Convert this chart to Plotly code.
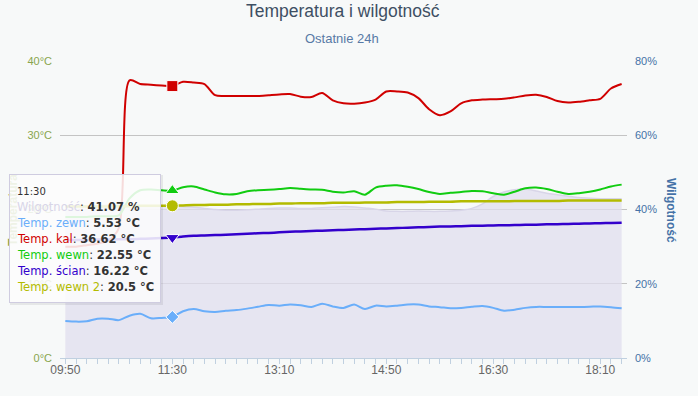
import plotly.graph_objects as go

# ---------------- data ----------------
DAY = "2015-01-01"
times = ["09:50", "10:00", "10:10", "10:20", "10:30", "10:40", "10:50", "11:00", "11:10", "11:20",
         "11:30", "11:40", "11:50", "12:00", "12:10", "12:20", "12:30", "12:40", "12:50", "13:00",
         "13:10", "13:20", "13:30", "13:40", "13:50", "14:00", "14:10", "14:20", "14:30", "14:40",
         "14:50", "15:00", "15:10", "15:20", "15:30", "15:40", "15:50", "16:00", "16:10", "16:20",
         "16:30", "16:40", "16:50", "17:00", "17:10", "17:20", "17:30", "17:40", "17:50", "18:00",
         "18:10", "18:20", "18:30"]

humidity = [41.0, 41.0, 41.0, 41.0, 41.2, 41.2, 41.0, 40.8, 40.8, 41.0,
            41.07, 40.8, 40.6, 40.3, 40.0, 39.8, 39.8, 39.9, 40.1, 40.3,
            40.4, 40.4, 40.3, 40.3, 40.5, 40.6, 40.8, 40.7, 40.4, 40.1,
            39.6, 39.5, 39.5, 39.6, 39.5, 39.5, 39.6, 39.8, 40.3, 41.5,
            43.5, 44.7, 45.3, 45.5, 45.0, 44.4, 44.0, 43.6, 43.2, 43.0,
            42.9, 42.9, 42.9]

temp_zewn = [5.0, 4.9, 4.95, 5.3, 5.3, 5.1, 5.7, 5.95, 5.35, 5.4,
             5.53, 6.3, 6.6, 6.3, 6.2, 6.35, 6.45, 6.65, 6.9, 7.15,
             7.05, 7.2, 7.1, 6.87, 7.3, 6.95, 6.75, 7.2, 6.6, 7.05,
             6.95, 7.05, 7.2, 7.2, 6.95, 6.85, 6.7, 6.75, 6.9, 7.0,
             6.75, 6.37, 6.5, 6.75, 6.88, 6.88, 6.88, 6.87, 6.87, 6.9,
             6.95, 6.85, 6.7]

temp_kal = [15.0, 15.0, 15.2, 15.4, 15.8, 17.5, 37.4, 36.9, 36.8, 36.7,
            36.62, 37.2, 37.1, 36.9, 35.4, 35.3, 35.3, 35.3, 35.3, 35.4,
            35.5, 35.55, 35.2, 35.15, 35.7, 34.7, 34.3, 34.25, 34.4, 34.8,
            35.9, 35.9, 35.75, 35.0, 33.5, 32.7, 33.2, 34.3, 34.7, 34.8,
            34.85, 34.9, 35.1, 35.35, 35.45, 35.15, 34.6, 34.4, 34.5, 34.7,
            34.9, 36.3, 36.9]

temp_wewn = [19.0, 19.0, 19.0, 19.1, 19.1, 19.2, 21.5, 22.6, 22.7, 22.6,
             22.55, 23.0, 23.1, 22.7, 22.3, 22.05, 22.1, 22.45, 22.6, 22.65,
             22.75, 22.9, 22.8, 22.7, 22.65, 22.4, 22.3, 22.45, 22.0, 22.95,
             23.2, 23.25, 23.05, 22.75, 22.35, 22.1, 22.25, 22.35, 22.5, 22.45,
             22.2, 22.0, 22.4, 22.85, 22.95, 22.75, 22.4, 22.1, 22.2, 22.4,
             22.7, 23.1, 23.35]

temp_scian = [15.9, 15.9, 15.9, 15.95, 15.95, 16.0, 16.0, 16.05, 16.1, 16.15,
              16.22, 16.35, 16.45, 16.5, 16.55, 16.6, 16.65, 16.72, 16.8, 16.85,
              16.92, 17.0, 17.05, 17.1, 17.15, 17.2, 17.25, 17.3, 17.35, 17.4,
              17.45, 17.5, 17.55, 17.6, 17.65, 17.7, 17.72, 17.75, 17.8, 17.82,
              17.85, 17.88, 17.9, 17.93, 17.96, 18.0, 18.02, 18.05, 18.08, 18.12,
              18.15, 18.18, 18.2]

temp_wewn2 = [20.4, 20.4, 20.4, 20.4, 20.4, 20.45, 20.45, 20.5, 20.5, 20.5,
              20.5, 20.55, 20.6, 20.6, 20.65, 20.65, 20.7, 20.7, 20.75, 20.75,
              20.8, 20.8, 20.85, 20.85, 20.85, 20.9, 20.9, 20.9, 20.95, 20.95,
              20.95, 21.0, 21.0, 21.0, 21.05, 21.05, 21.05, 21.1, 21.1, 21.1,
              21.1, 21.1, 21.15, 21.15, 21.15, 21.15, 21.15, 21.2, 21.2, 21.2,
              21.2, 21.2, 21.2]

temp_ticks = [0, 10, 20, 30, 40]
hum_ticks = [0, 20, 40, 60, 80]
hover_time = "11:30"

# ---------------- styling ----------------
BG = "#f7f9f9"
C_HUM = "#d8d5e8"
C_ZEWN = "#6aaefa"
C_KAL = "#d00000"
C_WEWN = "#11cc11"
C_SCIAN = "#3300cc"
C_WEWN2 = "#b3bb00"
C_LEFT = "#89A54E"
C_RIGHT = "#4572A7"
FONT = "Liberation Sans, Arial, sans-serif"
TT_FONT = "DejaVu Sans, Verdana, sans-serif"

# plot area in pixels
W, H = 698, 396
PL, PR, PT, PB = 60, 627, 61, 358


def px(xp):
    return (xp - PL) / (PR - PL)


def py(yp):
    return (PB - yp) / (PB - PT)


x = [f"{DAY} {t}:00" for t in times]
hi = times.index(hover_time)

fig = go.Figure()

# humidity area (primary y, right side) - drawn first so it stays behind
fig.add_trace(go.Scatter(
    x=x, y=humidity, name="Wilgotność", mode="lines", yaxis="y",
    line=dict(color=C_HUM, width=1.5, shape="spline", smoothing=0.8),
    fill="tozeroy", fillcolor="rgba(224,221,237,0.75)", hoverinfo="skip"))

series = [
    ("Temp. zewn", temp_zewn, C_ZEWN, 2, "diamond", 10, "°C"),
    ("Temp. kal", temp_kal, C_KAL, 2, "square", 11, "°C"),
    ("Temp. wewn", temp_wewn, C_WEWN, 2, "triangle-up", 12, "°C"),
    ("Temp. ścian", temp_scian, C_SCIAN, 2.5, "triangle-down", 12, "°C"),
    ("Temp. wewn 2", temp_wewn2, C_WEWN2, 2.5, "circle", 12, "°C"),
]

for name, ys, col, lw, sym, ms, unit in series:
    fig.add_trace(go.Scatter(
        x=x, y=ys, name=name, mode="lines", yaxis="y2",
        line=dict(color=col, width=lw, shape="spline", smoothing=0.8),
        hoverinfo="skip"))

for name, ys, col, lw, sym, ms, unit in series:
    fig.add_trace(go.Scatter(
        x=[x[hi]], y=[ys[hi]], mode="markers", yaxis="y2", showlegend=False,
        marker=dict(symbol=sym, size=ms, color=col, line=dict(color="white", width=1)),
        hoverinfo="skip"))

annotations = []
# axis titles
annotations.append(dict(text="<b>Temperatura</b>", x=px(13), y=py(210), xref="paper", yref="paper",
                        textangle=-90, showarrow=False, font=dict(family=FONT, size=12, color=C_LEFT),
                        xanchor="center", yanchor="middle"))
annotations.append(dict(text="<b>Wilgotność</b>", x=px(671), y=py(210), xref="paper", yref="paper",
                        textangle=90, showarrow=False, font=dict(family=FONT, size=12, color=C_RIGHT),
                        xanchor="center", yanchor="middle"))
# title / subtitle
annotations.append(dict(text="Temperatura i wilgotność", x=px(343), y=py(11), xref="paper", yref="paper",
                        showarrow=False, font=dict(family=FONT, size=17.5, color="#3E4F63"),
                        xanchor="center", yanchor="middle"))
annotations.append(dict(text="Ostatnie 24h", x=px(342), y=py(38), xref="paper", yref="paper",
                        showarrow=False, font=dict(family=FONT, size=13, color="#5779a6"),
                        xanchor="center", yanchor="middle"))

# tooltip box
TB_L, TB_R, TB_T, TB_B = 9, 161, 174, 303
annotations.append(dict(text=" ", x=px((TB_L + TB_R) / 2), y=py((TB_T + TB_B) / 2),
                        xref="paper", yref="paper", showarrow=False,
                        width=TB_R - TB_L - 2, height=TB_B - TB_T - 2, borderpad=0,
                        bgcolor="rgba(255,255,255,0.86)", bordercolor="#cfcce0", borderwidth=1,
                        xanchor="center", yanchor="middle"))
annotations.append(dict(text=hover_time, x=px(16), y=py(191.5), xref="paper", yref="paper",
                        showarrow=False, font=dict(family=TT_FONT, size=10, color="#333333"),
                        xanchor="left", yanchor="middle", borderpad=0))
tt_rows = [("Wilgotność", humidity[hi], C_HUM, "%")] + [(n, ys[hi], c, u) for n, ys, c, _, _, _, u in series]
for i, (name, val, col, unit) in enumerate(tt_rows):
    annotations.append(dict(
        text=f'<span style="color:{col}">{name}</span>: <b>{val:g} {unit}</b>',
        x=px(16), y=py(207 + 16 * i), xref="paper", yref="paper", showarrow=False,
        font=dict(family=TT_FONT, size=11.5, color="#333333"),
        xanchor="left", yanchor="middle", borderpad=0))

shapes = [dict(type="rect", xref="paper", yref="paper", layer="above",
               x0=px(TB_L + 1), x1=px(TB_R + 2), y0=py(TB_B + 2), y1=py(TB_T + 1),
               line=dict(width=0), fillcolor="rgba(0,0,0,0.07)")]

fig.update_layout(
    width=W, height=H,
    margin=dict(l=PL, r=W - PR, t=PT, b=H - PB, pad=0, autoexpand=False),
    paper_bgcolor=BG, plot_bgcolor=BG,
    showlegend=False,
    font=dict(family=FONT, size=11, color="#666666"),
    xaxis=dict(
        type="date", automargin=False,
        range=[f"{DAY} 09:45:00", f"{DAY} 18:35:00"],
        tickformat="%H:%M", tick0=f"{DAY} 09:50:00", dtick=100 * 60 * 1000,
        ticks="outside", ticklen=5, tickcolor="#C0D0E0", tickwidth=1,
        ticklabelstandoff=-4,
        minor=dict(dtick=10 * 60 * 1000, tick0=f"{DAY} 09:50:00", ticks="outside",
                   ticklen=5, tickcolor="#C0D0E0", tickwidth=1, showgrid=False),
        showline=True, linecolor="#C0D0E0", linewidth=1,
        showgrid=False, zeroline=False,
        tickfont=dict(family=FONT, size=12, color="#666666"),
    ),
    yaxis=dict(
        side="right", automargin=False, range=[0, 80], tickvals=hum_ticks,
        ticktext=[f"{v}%" for v in hum_ticks],
        showgrid=True, gridcolor="#c4c4c4", gridwidth=1, zeroline=False,
        showline=False, ticks="", ticklabelstandoff=7,
        tickfont=dict(family=FONT, size=11, color=C_RIGHT),
    ),
    yaxis2=dict(
        side="left", overlaying="y", automargin=False, range=[0, 40], tickvals=temp_ticks,
        ticktext=[f"{v}°C" for v in temp_ticks],
        showgrid=False, zeroline=False, showline=False, ticks="", ticklabelstandoff=7,
        tickfont=dict(family=FONT, size=11, color=C_LEFT),
    ),
    annotations=annotations,
    shapes=shapes,
)

fig.write_html("out.html", config={"displayModeBar": False},
               post_script="document.body.style.margin='0px';document.body.style.overflow='hidden';")
